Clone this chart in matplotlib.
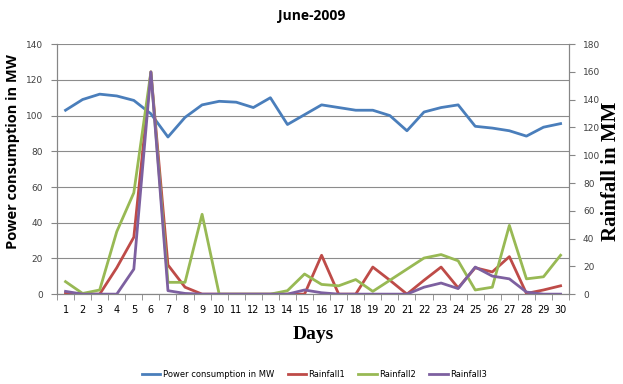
import numpy as np
import matplotlib
matplotlib.use("Agg")
from matplotlib import pyplot as plt

days = list(range(1, 31))
power_mw = [103, 109, 112, 111, 108.5, 101, 88, 99, 106, 108, 107.5, 104.5, 110, 95, 100.5,
            106, 104.5, 103, 103, 100, 91.5, 102, 104.5, 106, 94, 93, 91.5, 88.5, 93.5, 95.5]
rainfall1 = [1, 0, 0, 19, 41, 160, 21, 5, 0, 0, 0, 0, 0, 0, 0,
             28, 0, 0, 19.5, 10, 0, 10, 19.5, 4.5, 19, 16, 27, 0.5, 3, 6]
rainfall2 = [9, 0.5, 3, 45, 73, 160, 8.5, 8.5, 57.5, 0, 0, 0, 0, 2.5, 14.5,
             7, 6, 10.5, 2, 10, 18, 26, 28.5, 24, 3, 5, 49.5, 11, 12.5, 28]
rainfall3 = [2, 0, 0, 0, 18, 160, 2.5, 0.5, 0, 0, 0, 0, 0, 0, 3,
             1, 0, 0, 0, 0, 0, 5, 8, 4, 19.5, 13, 11, 1.5, 0, 0]

blue = '#4a7ebb'
red = '#be4b48'
green = '#98b954'
purple = '#7d60a0'
gray = '#868686'

fig = plt.figure(figsize=(6.23, 3.84), dpi=100)
ax = fig.add_axes([0.0915, 0.234, 0.822, 0.651])
ax2 = ax.twinx()

# power on the left axis, rainfall series on the right axis (drawn on top)
l1, = ax.plot(days, power_mw, color=blue, lw=2)
l2, = ax2.plot(days, rainfall1, color=red, lw=2)
l3, = ax2.plot(days, rainfall2, color=green, lw=2)
l4, = ax2.plot(days, rainfall3, color=purple, lw=2)

ax.set_xlim(0.5, 30.5)
ax.set_ylim(0, 140)
ax2.set_ylim(0, 180)
ax.set_yticks(np.arange(0, 141, 20))
ax2.set_yticks(np.arange(0, 181, 20))
ax.set_xticks(days)
ax.set_xticks(np.arange(0.5, 31, 1), minor=True)
ax.tick_params(axis='x', which='major', length=0, pad=8, labelsize=7)
ax.tick_params(axis='x', which='minor', length=4, color=gray, direction='out')
ax.tick_params(axis='y', length=4, color=gray, labelsize=6.5, labelcolor='#404040', pad=6)
ax2.tick_params(axis='y', length=4, color=gray, labelsize=6.5, labelcolor='#404040', pad=6)
ax.grid(axis='y', color='#8c8c8c', lw=0.8)

for a in (ax, ax2):
    a.spines['top'].set_visible(False)
    for s in ('left', 'right', 'bottom'):
        a.spines[s].set_color(gray)

fig.text(0.5, 0.958, 'June-2009', ha='center', va='center', fontsize=10,
         fontweight='bold', family='Open Sans')
ax.set_ylabel('Power consumption in MW', fontsize=10.5, fontweight='bold',
              family='Open Sans')
ax.yaxis.set_label_coords(-0.072, 0.57)
ax2.set_ylabel('Rainfall in MM', fontsize=15, fontweight='bold',
               family='Liberation Serif')
ax2.yaxis.set_label_coords(1.062, 0.49)
ax.set_xlabel('Days', fontsize=14, fontweight='bold', family='Liberation Serif', labelpad=8)

fig.legend([l1, l2, l3, l4],
           ['Power consumption in MW', 'Rainfall1', 'Rainfall2', 'Rainfall3'],
           loc='center', bbox_to_anchor=(0.505, 0.025), ncol=4, frameon=False,
           fontsize=6, handlelength=2.2, columnspacing=1.6, handletextpad=0.3)

plt.savefig('out.png', dpi=100)
